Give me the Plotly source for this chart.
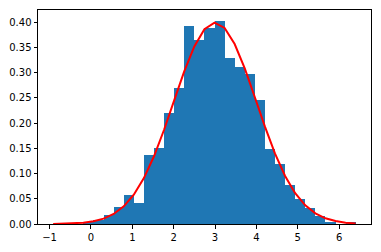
import plotly.graph_objects as go

# Histogram bin edges (31 edges, 30 bins)
bin_edges = [-0.914, -0.670, -0.426, -0.183, 0.061, 0.305, 0.549, 0.793, 1.036, 1.280,
             1.524, 1.768, 2.012, 2.255, 2.499, 2.743, 2.987, 3.231, 3.474, 3.718,
             3.962, 4.206, 4.450, 4.693, 4.937, 5.181, 5.425, 5.669, 5.912, 6.156, 6.400]

# Histogram density values per bin
bin_density = [0.000, 0.000, 0.000, 0.004, 0.008, 0.017, 0.033, 0.058, 0.041, 0.136,
               0.150, 0.220, 0.270, 0.392, 0.364, 0.388, 0.402, 0.329, 0.311, 0.298,
               0.245, 0.148, 0.119, 0.077, 0.049, 0.032, 0.015, 0.004, 0.000, 0.002]

# Normal curve values at each bin edge
curve_y = [0.0002, 0.0005, 0.0011, 0.0025, 0.0053, 0.0106, 0.0198, 0.0349, 0.0580, 0.0909,
           0.1342, 0.1867, 0.2449, 0.3023, 0.3519, 0.3860, 0.3989, 0.3884, 0.3566, 0.3083,
           0.2512, 0.1928, 0.1394, 0.0952, 0.0611, 0.0370, 0.0211, 0.0113, 0.0058, 0.0027, 0.0012]

x_ticks = [-1, 0, 1, 2, 3, 4, 5, 6]
y_ticks = [0.00, 0.05, 0.10, 0.15, 0.20, 0.25, 0.30, 0.35, 0.40]

centers = [(a + b) / 2 for a, b in zip(bin_edges[:-1], bin_edges[1:])]
widths = [b - a for a, b in zip(bin_edges[:-1], bin_edges[1:])]

fig = go.Figure()
fig.add_trace(go.Bar(x=centers, y=bin_density, width=widths,
                     marker=dict(color="#1f77b4", line=dict(width=0)),
                     showlegend=False, hoverinfo="skip"))
fig.add_trace(go.Scatter(x=bin_edges, y=curve_y, mode="lines",
                         line=dict(color="red", width=2),
                         showlegend=False, hoverinfo="skip"))

axis_common = dict(showline=True, linecolor="black", linewidth=1, mirror=True,
                   ticks="outside", ticklen=3.5, tickwidth=0.8, tickcolor="black",
                   showgrid=False, zeroline=False,
                   tickfont=dict(family="DejaVu Sans", size=10, color="black"))

fig.update_layout(
    width=381, height=252,
    margin=dict(l=36, r=9, t=10, b=24),
    paper_bgcolor="white", plot_bgcolor="white",
    bargap=0,
    xaxis=dict(range=[-1.28, 6.77], tickvals=x_ticks, **axis_common),
    yaxis=dict(range=[0, 0.424], tickvals=y_ticks, tickformat=".2f", **axis_common),
)

fig.write_html("out.html")
